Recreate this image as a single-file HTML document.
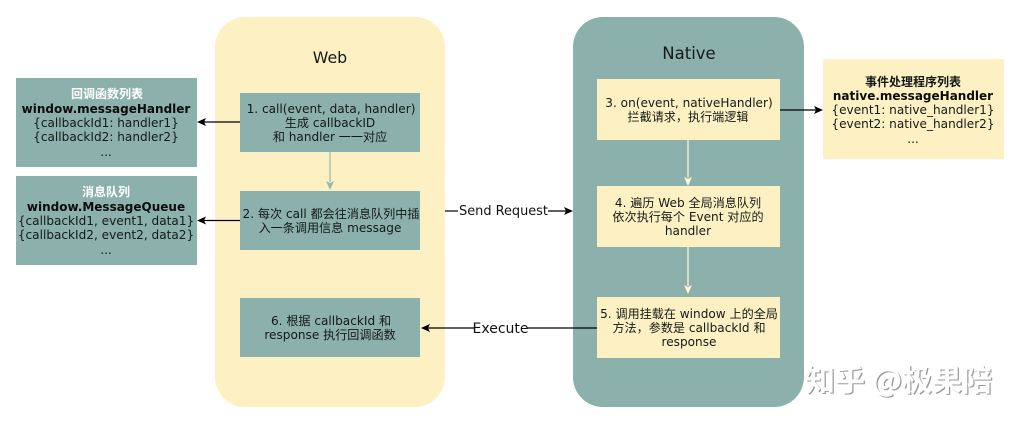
<!DOCTYPE html>
<html><head><meta charset="utf-8"><style>
html,body{margin:0;padding:0;background:#fff}
svg{display:block}
text{font-family:"DejaVu Sans","Noto Sans CJK SC",sans-serif;font-size:12.1px;fill:#141a18;text-anchor:middle}
.b{font-weight:bold;font-size:12px;fill:#0c0c0c}
.w{fill:#fff;font-weight:bold;font-size:12px}
.wm{font-size:30px;font-weight:bold;fill:#fff;text-anchor:start;font-family:"Noto Sans CJK SC",sans-serif}
</style></head><body>
<svg width="1020" height="423" viewBox="0 0 1020 423" xmlns="http://www.w3.org/2000/svg">
<rect width="1020" height="423" fill="#fff"/>
<rect x="215" y="17" width="230" height="390" rx="30" fill="#fdf1c3"/>
<rect x="573" y="17" width="231" height="390" rx="30" fill="#8cb0ab"/>
<text x="330" y="63" style="font-size:15.8px">Web</text>
<text x="689" y="59" style="font-size:16.5px">Native</text>

<rect x="16" y="78" width="181" height="89" fill="#8cb0ab"/>
<text class="w" x="107" y="98">回调函数列表</text>
<text class="b" x="106" y="113">window.messageHandler</text>
<text x="106" y="127">{callbackId1: handler1}</text>
<text x="106" y="141">{callbackId2: handler2}</text>
<text x="106" y="156">...</text>

<rect x="16" y="176" width="181" height="89" fill="#8cb0ab"/>
<text class="w" x="106" y="196">消息队列</text>
<text class="b" x="106" y="211">window.MessageQueue</text>
<text x="106" y="225">{callbackId1, event1, data1}</text>
<text x="106" y="239">{callbackId2, event2, data2}</text>
<text x="106" y="254">...</text>

<rect x="240" y="93" width="180" height="59" fill="#8cb0ab"/>
<text x="331" y="113">1. call(event, data, handler)</text>
<text x="330" y="127">生成 callbackID</text>
<text x="330" y="141">和 handler 一一对应</text>

<rect x="240" y="191" width="180" height="59" fill="#8cb0ab"/>
<text x="331" y="218">2. 每次 call 都会往消息队列中插</text>
<text x="330" y="232">入一条调用信息 message</text>

<rect x="240" y="298" width="180" height="59" fill="#8cb0ab"/>
<text x="331" y="325">6. 根据 callbackId 和</text>
<text x="330" y="339">response 执行回调函数</text>

<rect x="597" y="79" width="183" height="61" fill="#fdf1c3"/>
<text x="689" y="107">3. on(event, nativeHandler)</text>
<text x="688" y="121">拦截请求，执行端逻辑</text>

<rect x="597" y="186" width="183" height="61" fill="#fdf1c3"/>
<text x="688" y="207">4. 遍历 Web 全局消息队列</text>
<text x="688" y="221">依次执行每个 Event 对应的</text>
<text x="688" y="235">handler</text>

<rect x="597" y="297" width="183" height="61" fill="#fdf1c3"/>
<text x="689" y="318">5. 调用挂载在 window 上的全局</text>
<text x="689" y="332">方法，参数是 callbackId 和</text>
<text x="689" y="346">response</text>

<rect x="823" y="59" width="181" height="100" fill="#fdf1c3"/>
<text style="font-size:12px;font-weight:bold" x="913" y="86">事件处理程序列表</text>
<text class="b" x="913" y="100">native.messageHandler</text>
<text x="913" y="114">{event1: native_handler1}</text>
<text x="913" y="128">{event2: native_handler2}</text>
<text x="913" y="143">...</text>

<g stroke="#000" stroke-width="1.2" fill="none">
<path d="M240 122H204"/><path d="M240 220.500H204"/>
<path d="M445 211H458"/><path d="M548 211H566"/>
<path d="M597 328H527"/><path d="M474 328H428"/>
<path d="M780 110H816"/>
</g>
<g fill="#000">
<path d="M197 122l9-4-2 4 2 4z"/><path d="M197 220.500l9-4-2 4 2 4z"/>
<path d="M573 211l-9-4 2 4-2 4z"/>
<path d="M421 328l9-4-2 4 2 4z"/>
<path d="M823 110l-9-4 2 4-2 4z"/>
</g>
<path d="M330 152V182" stroke="#9db9a8" stroke-width="1.2" fill="none"/>
<path d="M330 190l-4-9 4 2 4-2z" fill="#9db9a8"/>
<path d="M688 140V178M688 247V286" stroke="#fdf8e0" stroke-width="1.2" fill="none"/>
<path d="M688 186l-4-9 4 2 4-2zM688 294l-4-9 4 2 4-2z" fill="#fdf8e0"/>

<text x="503.500" y="215" style="font-size:12.900px;fill:#111">Send Request</text>
<text x="500.500" y="333" style="font-size:14px;fill:#111">Execute</text>

<text class="wm" x="805" y="391" style="fill:#9a9a9a" transform="translate(1.200 1.200)">知乎 @极果陪</text>
<text class="wm" x="805" y="391">知乎 @极果陪</text>
</svg>
</body></html>
